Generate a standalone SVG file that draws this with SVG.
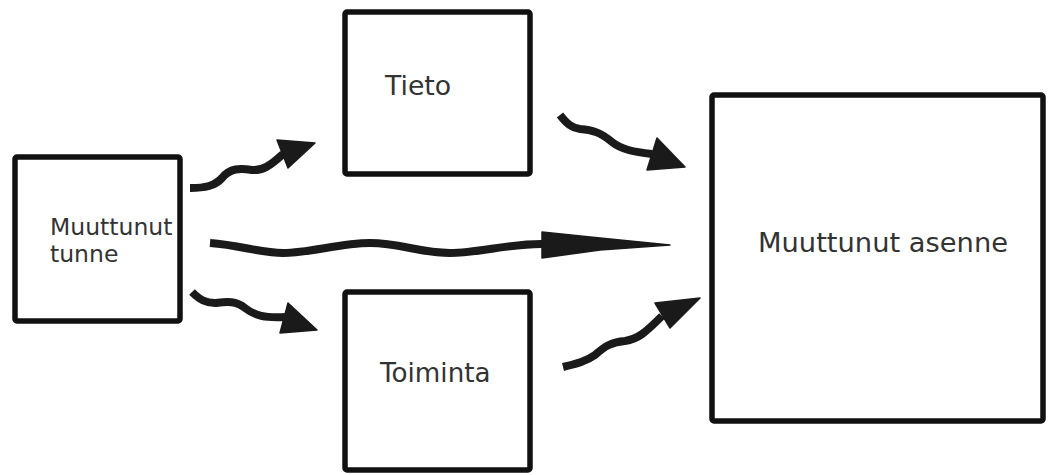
<svg xmlns="http://www.w3.org/2000/svg" width="1048" height="475" viewBox="0 0 1048 475">
<style>
.box{fill:#fff;stroke:#111;stroke-width:5.5;stroke-linejoin:round}
.lbl{font-family:"DejaVu Sans","Verdana",sans-serif;fill:#333}
.wave{fill:none;stroke:#1a1a1a;stroke-width:8;stroke-linecap:butt;stroke-linejoin:round}
.head{fill:#1a1a1a;stroke:#1a1a1a;stroke-width:1.5;stroke-linejoin:round}
</style>
<rect width="1048" height="475" fill="#fff"/>
<g id="node-tunne">
<rect class="box" x="15" y="157" width="165" height="164" rx="2"/>
<text class="lbl" x="50" y="235" font-size="23.5">Muuttunut</text>
<text class="lbl" x="50" y="262" font-size="23.5">tunne</text>
</g>
<g id="node-tieto">
<rect class="box" x="345" y="12" width="185" height="162" rx="2"/>
<text class="lbl" x="385" y="95" font-size="26.7">Tieto</text>
</g>
<g id="node-toiminta">
<rect class="box" x="345" y="292" width="185" height="178" rx="2"/>
<text class="lbl" x="380" y="382" font-size="26.2">Toiminta</text>
</g>
<g id="node-asenne">
<rect class="box" x="712" y="95" width="331" height="326" rx="2"/>
<text class="lbl" x="758" y="252" font-size="27.3">Muuttunut asenne</text>
</g>
<g id="connectors">
<path class="wave" d="M190,188 C205,188 215,186 222,178 C230,168 240,168 252,170 C262,171 270,166 283,154"/>
<polygon class="head" points="277,140 315,143 288,168"/>
<path class="wave" d="M192,292 C200,300 206,303 215,303 C225,302 235,300 245,308 C255,316 265,318 285,317"/>
<polygon class="head" points="288,303 317,330 280,333"/>
<path class="wave" d="M560,115 C567,124 572,128 580,129 C592,130 600,132 612,142 C622,150 635,152 652,154"/>
<polygon class="head" points="657,138 685,167 647,170"/>
<path class="wave" d="M563,367 C575,364 585,362 595,355 C605,346 612,342 625,341 C638,339 645,333 662,316"/>
<polygon class="head" points="655,303 700,298 670,328"/>
<path class="wave" d="M210,243 C240,245 260,253 283,253 C310,253 340,243 370,243 C400,243 420,253 450,253 C480,253 510,243 545,244" stroke-width="9"/>
<polygon class="head" points="542,232 600,238 670,245 600,250 542,258"/>
</g>
</svg>
